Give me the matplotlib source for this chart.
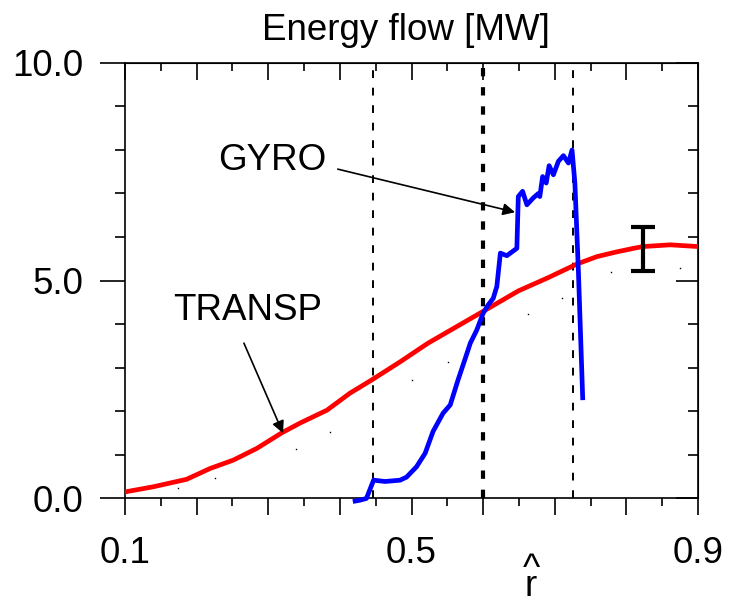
import matplotlib
matplotlib.use('Agg')
import matplotlib.pyplot as plt
from matplotlib.ticker import MultipleLocator, FixedLocator, FuncFormatter

plt.rcParams['font.family'] = ['Liberation Sans', 'DejaVu Sans']
plt.rcParams['font.size'] = 26.5

# TRANSP profile (red)
transp_r = [0.100, 0.140, 0.186, 0.219, 0.251, 0.284, 0.319, 0.344, 0.382, 0.414,
            0.444, 0.484, 0.523, 0.563, 0.603, 0.649, 0.690, 0.731, 0.759, 0.787,
            0.810, 0.823, 0.861, 0.900]
transp_q = [0.14, 0.26, 0.43, 0.68, 0.87, 1.14, 1.50, 1.72, 2.02, 2.41,
            2.71, 3.13, 3.56, 3.94, 4.32, 4.76, 5.06, 5.38, 5.55, 5.66,
            5.74, 5.78, 5.82, 5.78]

# GYRO profile (blue)
gyro_r = [0.418, 0.428, 0.437, 0.447, 0.463, 0.484, 0.493, 0.507, 0.519, 0.530,
          0.544, 0.554, 0.565, 0.575, 0.582, 0.591, 0.600, 0.607, 0.614, 0.619,
          0.624, 0.633, 0.647, 0.649, 0.655, 0.661, 0.670, 0.677, 0.679, 0.683,
          0.688, 0.692, 0.698, 0.705, 0.712, 0.719, 0.724, 0.728, 0.733, 0.739]
gyro_q = [-0.08, -0.05, -0.01, 0.41, 0.38, 0.41, 0.48, 0.72, 1.03, 1.53,
          1.95, 2.14, 2.72, 3.21, 3.56, 3.86, 4.25, 4.44, 4.59, 4.86,
          5.63, 5.57, 5.74, 6.93, 7.05, 6.74, 6.90, 7.00, 6.93, 7.39,
          7.24, 7.64, 7.43, 7.74, 7.87, 7.70, 8.00, 7.24, 5.17, 2.25]

# sparse dotted curve
dot_r = [0.174, 0.226, 0.339, 0.386, 0.501, 0.551, 0.663, 0.710, 0.779, 0.875]
dot_q = [0.23, 0.46, 1.13, 1.52, 2.71, 3.13, 4.23, 4.60, 5.20, 5.29]

# error bar
err_r = 0.823
err_q = 5.73
err_dq = 0.51

# vertical markers
vline_thin = [0.446, 0.726]
vline_thick = 0.6

xtick_labels = {0.1: '0.1', 0.5: '0.5', 0.9: '0.9'}

fig = plt.figure(figsize=(7.31, 5.97), dpi=100)
ax = fig.add_axes([0.171, 0.1658, 0.784, 0.7287])

ax.plot(transp_r, transp_q, color='#ff0000', lw=3.4, solid_joinstyle='round', zorder=3)
ax.plot(gyro_r, gyro_q, color='#0000ff', lw=3.4, solid_capstyle='butt', zorder=3,
        clip_on=False)
ax.plot(dot_r, dot_q, ls='none', marker='s', ms=1.0, mew=0, color='k')
ax.errorbar([err_r], [err_q], yerr=[err_dq], color='k', lw=3, capsize=8.5,
            capthick=3, zorder=4)

for xv in vline_thin:
    ax.axvline(xv, color='k', lw=1.4, dashes=(4, 5), zorder=2)
ax.axvline(vline_thick, color='k', lw=3.0, dashes=(2, 2.6), zorder=2)

ax.set_xlim(0.1, 0.9)
ax.set_ylim(0, 10)

ax.xaxis.set_major_locator(FixedLocator([0.1, 0.2, 0.3, 0.4, 0.5, 0.6, 0.7, 0.8, 0.9]))
ax.xaxis.set_minor_locator(MultipleLocator(0.05))
ax.xaxis.set_major_formatter(FuncFormatter(
    lambda v, p: xtick_labels.get(round(v, 2), '')))
ax.yaxis.set_major_locator(MultipleLocator(5))
ax.yaxis.set_minor_locator(MultipleLocator(1))
ax.yaxis.set_major_formatter(FuncFormatter(lambda v, p: '%.1f' % v))

ax.tick_params(axis='x', which='major', direction='out', length=12, width=1.2, pad=15)
ax.tick_params(axis='x', which='minor', direction='out', length=6, width=1.2)
ax.tick_params(axis='y', which='major', direction='out', length=18, width=1.2, pad=12)
ax.tick_params(axis='y', which='minor', direction='out', length=7, width=1.2)
for s in ax.spines.values():
    s.set_linewidth(1.2)

# top and right ticks point inward
top = ax.secondary_xaxis('top')
top.set_xticks([0.1, 0.2, 0.3, 0.4, 0.5, 0.6, 0.7, 0.8, 0.9])
top.xaxis.set_minor_locator(MultipleLocator(0.05))
top.tick_params(which='major', direction='in', length=12, width=1.2, labeltop=False)
top.tick_params(which='minor', direction='in', length=6, width=1.2)
right = ax.secondary_yaxis('right')
right.set_yticks([0, 5, 10])
right.yaxis.set_minor_locator(MultipleLocator(1))
right.tick_params(which='major', direction='in', length=16, width=1.2, labelright=False)
right.tick_params(which='minor', direction='in', length=7, width=1.2)

# annotations
ax.text(0.305, 7.54, 'GYRO', ha='center', va='baseline')
ax.annotate('', xy=(0.6445, 6.57), xytext=(0.397, 7.56),
            arrowprops=dict(arrowstyle='-|>', color='k', lw=1.2, mutation_scale=18,
                            shrinkA=0, shrinkB=0))
ax.text(0.271, 4.09, 'TRANSP', ha='center', va='baseline')
ax.annotate('', xy=(0.3206, 1.49), xytext=(0.266, 3.56),
            arrowprops=dict(arrowstyle='-|>', color='k', lw=1.2, mutation_scale=18,
                            shrinkA=0, shrinkB=0))

fig.text(0.555, 1 - 40 / 597, 'Energy flow [MW]', ha='center', va='baseline')
# x label: r with a hat, stacked as two tight lines
fig.text(531 / 731, 1 - 596 / 597, '^\nr', ha='center', va='baseline',
         multialignment='center', linespacing=0.32)

fig.savefig('out.png', dpi=100)
